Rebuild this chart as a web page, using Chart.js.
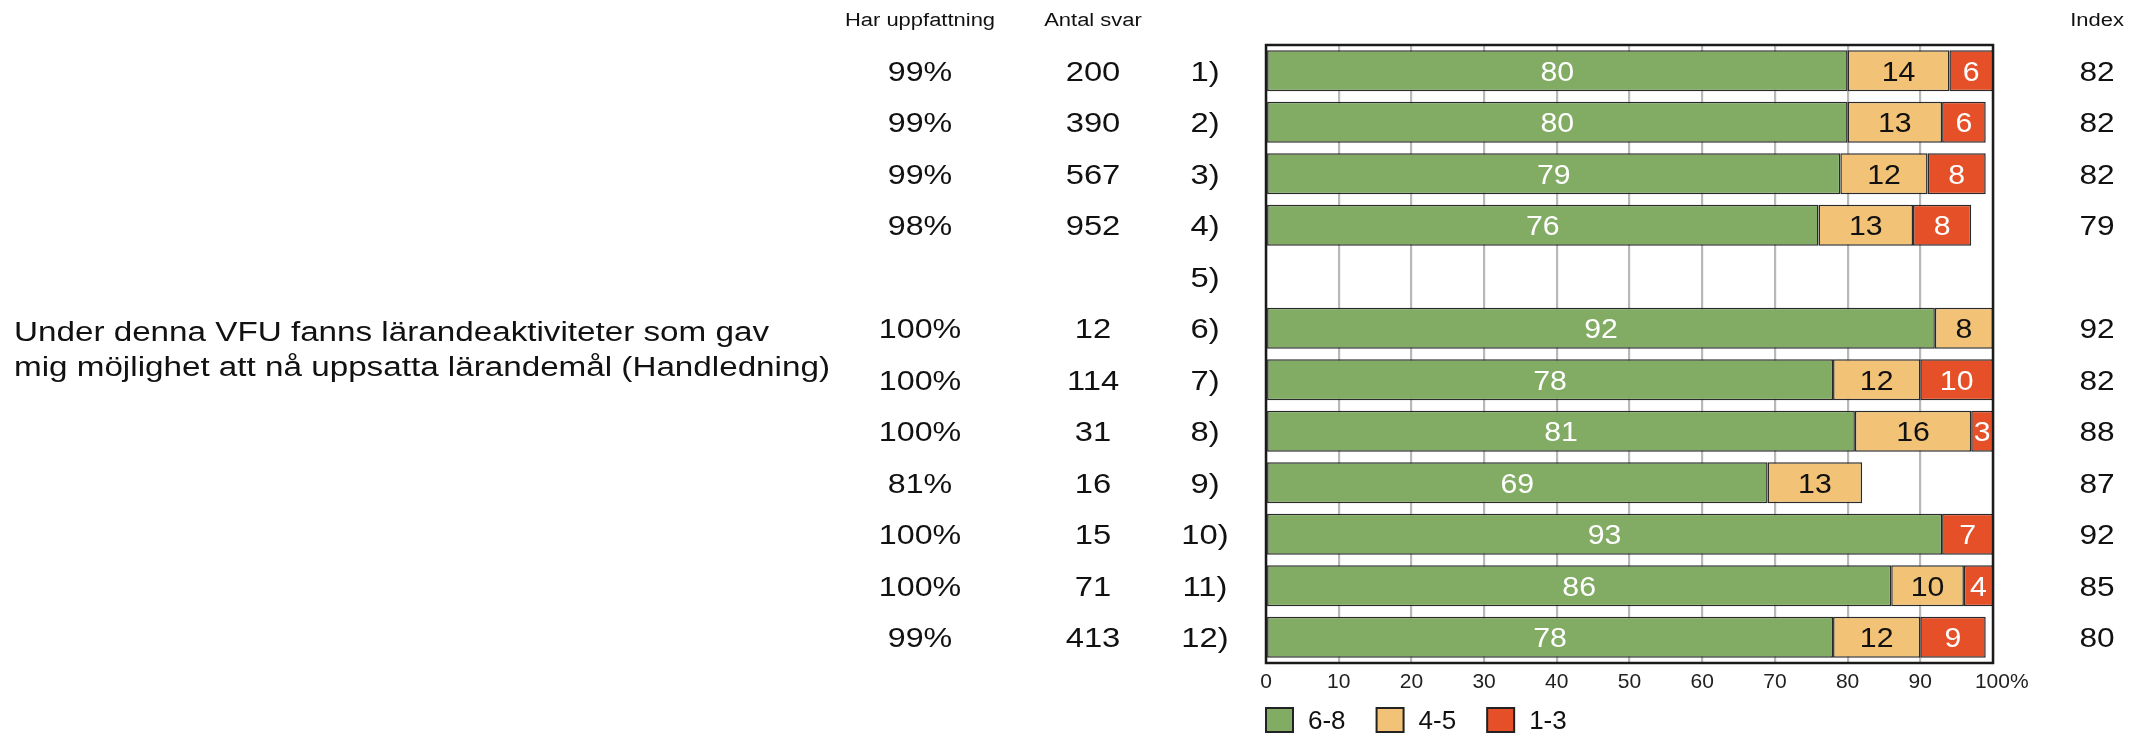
<!DOCTYPE html>
<html>
<head>
<meta charset="utf-8">
<script src="https://cdn.jsdelivr.net/npm/chart.js@4.4.1/dist/chart.umd.min.js"></script>
<style>
  html, body { margin: 0; padding: 0; background: #fff; }
  #wrap { width: 2139px; height: 735px; }
</style>
</head>
<body>
<div id="wrap"><canvas id="c" width="2139" height="735"></canvas></div>
<script>
// data
const rows = ['1)', '2)', '3)', '4)', '5)', '6)', '7)', '8)', '9)', '10)', '11)', '12)'];
const green = [80, 80, 79, 76, null, 92, 78, 81, 69, 93, 86, 78];
const orange = [14, 13, 12, 13, null, 8, 12, 16, 13, null, 10, 12];
const red = [6, 6, 8, 8, null, null, 10, 3, null, 7, 4, 9];
const hasOpinion = ['99%', '99%', '99%', '98%', '', '100%', '100%', '100%', '81%', '100%', '100%', '99%'];
const answers = [200, 390, 567, 952, null, 12, 114, 31, 16, 15, 71, 413];
const indexVals = [82, 82, 82, 79, null, 92, 82, 88, 87, 92, 85, 80];
const seriesNames = ['6-8', '4-5', '1-3'];
const question = [
  'Under denna VFU fanns lärandeaktiviteter som gav',
  'mig möjlighet att nå uppsatta lärandemål (Handledning)'
];

const FONT = '"Liberation Sans", Arial, sans-serif';
const colors = ['#82AC64', '#F2C276', '#E65028'];
const labelColors = ['#ffffff', '#111111', '#ffffff'];
Chart.defaults.font.family = FONT;

// text is drawn a bit wider than the font, like the original export
function drawText(ctx, s, x, y, size, color, sx, align) {
  ctx.save();
  ctx.font = size + 'px ' + FONT;
  ctx.fillStyle = color;
  ctx.textAlign = 'left';
  ctx.textBaseline = 'alphabetic';
  const w = ctx.measureText(s).width * sx;
  const left = align === 'center' ? x - w / 2 : (align === 'right' ? x - w : x);
  ctx.translate(left, y + size * 0.358);
  ctx.scale(sx, 1);
  ctx.fillText(s, 0, 0);
  ctx.restore();
  return w;
}

const sideTable = {
  id: 'sideTable',
  afterDraw(chart) {
    const ctx = chart.ctx;
    const ys = chart.scales.y;

    drawText(ctx, 'Har uppfattning', 920, 19.5, 18, '#111', 1.22, 'center');
    drawText(ctx, 'Antal svar', 1093, 19.5, 18, '#111', 1.22, 'center');
    drawText(ctx, 'Index', 2097, 19.5, 18, '#111', 1.22, 'center');

    rows.forEach((r, i) => {
      const py = ys.getPixelForValue(i);
      drawText(ctx, hasOpinion[i], 920, py, 28, '#111', 1.15, 'center');
      if (answers[i] != null) drawText(ctx, String(answers[i]), 1093, py, 28, '#111', 1.17, 'center');
      drawText(ctx, r, 1205, py, 28, '#111', 1.17, 'center');
      if (indexVals[i] != null) drawText(ctx, String(indexVals[i]), 2097, py, 28, '#111', 1.13, 'center');
    });

    drawText(ctx, question[0], 14, 331, 27, '#111', 1.23, 'left');
    drawText(ctx, question[1], 14, 366, 27, '#111', 1.23, 'left');

    // legend
    let lx = chart.chartArea.left;
    chart.data.datasets.forEach((ds, d) => {
      ctx.save();
      ctx.fillStyle = ds.backgroundColor;
      ctx.fillRect(lx, 708, 27, 24);
      ctx.lineWidth = 2;
      ctx.strokeStyle = '#222';
      ctx.strokeRect(lx, 708, 27, 24);
      ctx.restore();
      const w = drawText(ctx, ds.label, lx + 42, 720, 25, '#111', 1.04, 'left');
      lx += 42 + w + 31;
    });
  }
};

const barLabels = {
  id: 'barLabels',
  afterDatasetsDraw(chart) {
    const ctx = chart.ctx;
    const ca = chart.chartArea;
    ctx.save();
    ctx.lineWidth = 2.5;
    ctx.strokeStyle = '#1a1a1a';
    ctx.strokeRect(ca.left, ca.top, ca.right - ca.left, ca.bottom - ca.top);
    ctx.restore();

    chart.data.datasets.forEach((ds, d) => {
      const meta = chart.getDatasetMeta(d);
      meta.data.forEach((bar, i) => {
        const v = ds.data[i];
        if (v == null) return;
        drawText(ctx, String(v), (bar.x + bar.base) / 2, bar.y, 28, labelColors[d], 1.08, 'center');
      });
    });
  }
};

new Chart(document.getElementById('c'), {
  type: 'bar',
  data: {
    labels: rows,
    datasets: [
      { label: seriesNames[0], data: green, backgroundColor: colors[0] },
      { label: seriesNames[1], data: orange, backgroundColor: colors[1] },
      { label: seriesNames[2], data: red, backgroundColor: colors[2] }
    ]
  },
  options: {
    indexAxis: 'y',
    responsive: false,
    animation: false,
    layout: { padding: { left: 1266, right: 146, top: 45, bottom: 32 } },
    datasets: {
      bar: {
        barPercentage: 0.8,
        categoryPercentage: 1,
        borderWidth: 1.5,
        borderColor: '#2a2a2a',
        borderSkipped: false
      }
    },
    plugins: {
      legend: { display: false },
      tooltip: { enabled: false }
    },
    scales: {
      x: {
        stacked: true,
        min: 0,
        max: 100,
        grid: { color: '#B8B8B8', lineWidth: 2.2, drawTicks: false },
        border: { display: false },
        ticks: {
          stepSize: 10,
          autoSkip: false,
          padding: 7,
          color: '#222',
          font: { size: 21 },
          maxRotation: 0,
          callback: v => v === 100 ? '   100%' : v
        },
        afterFit: s => { s.height = 40; }
      },
      y: { stacked: true, display: false }
    }
  },
  plugins: [sideTable, barLabels]
});
</script>
</body>
</html>
